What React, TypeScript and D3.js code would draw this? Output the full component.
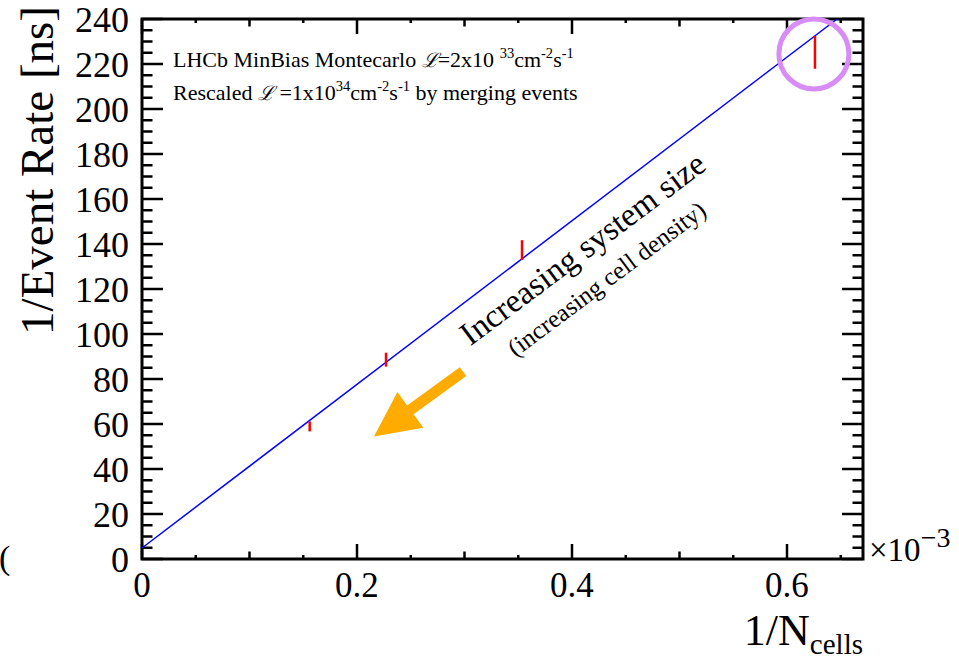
import React, { useEffect, useRef } from "react";
import * as d3 from "d3";

// measured points: 1/N_cells (x 1e-3) vs 1/event rate [ns]
const invCells = [0.156, 0.227, 0.3535, 0.626];
const invRate = [58.9, 88.6, 137.3, 225.2];
const rateErr = [2.2, 3.1, 4.4, 7.3];

// linear fit, drawn between its two ends
const fitX = [0, 0.6466];
const fitY = [4.9, 240];

const xTickLabels = [0, 0.2, 0.4, 0.6];
const yTickLabels = [0, 20, 40, 60, 80, 100, 120, 140, 160, 180, 200, 220, 240];

// annotations in data units
const arrowFrom = [0.2986, 83.3];
const arrowTo = [0.2158, 54.5];
const highlight = [0.625, 224.5];
const noteMain = [0.416, 134];
const noteSub = [0.437, 121.5];

const FONT = "'Liberation Serif', 'Times New Roman', Times, serif";

type Part = [string, string?];

function rich(g: any, x: number, y: number, size: number, parts: Part[], supScale = 0.66, subShift = 0.28) {
  const t = g.append("text").attr("x", x).attr("y", y).attr("font-size", size);
  let shift = 0;
  parts.forEach(([s, kind]) => {
    const ts = t.append("tspan").text(s);
    let target = 0;
    if (kind === "sup") {
      ts.attr("font-size", size * supScale);
      target = -size * 0.42;
    } else if (kind === "sub") {
      ts.attr("font-size", size * 0.66);
      target = size * subShift;
    } else if (kind === "it") {
      ts.attr("font-style", "italic").attr("font-family", "'DejaVu Serif', serif").attr("font-size", size * 0.9);
    }
    if (target !== shift) {
      ts.attr("dy", target - shift);
      shift = target;
    }
  });
  return t;
}

const App = () => {
  const svgRef = useRef<SVGSVGElement>(null);

  useEffect(() => {
    const width = 959;
    const height = 662;
    const margin = { top: 19, right: 96, bottom: 103, left: 142 };

    const x = d3.scaleLinear()
      .domain([0, 0.6707])
      .range([margin.left, width - margin.right]);

    const y = d3.scaleLinear()
      .domain([0, 240])
      .range([height - margin.bottom, margin.top]);

    const svg = d3.select(svgRef.current)
      .attr("width", width)
      .attr("height", height)
      .style("font-family", FONT);

    svg.selectAll("*").remove();

    const x0 = x.range()[0], x1 = x.range()[1];
    const y0 = y.range()[0], y1 = y.range()[1];

    // ticks (inward, on all four sides)
    const ticks = svg.append("g").attr("stroke", "#000").attr("stroke-width", 2.5);
    d3.range(0, 14).forEach(i => {
      const v = i * 0.05;
      if (v > 0.6707) return;
      const len = i % 4 === 0 ? 15 : i % 2 === 0 ? 7.5 : 4;
      const px = x(v);
      ticks.append("line").attr("x1", px).attr("x2", px).attr("y1", y0).attr("y2", y0 - len);
      ticks.append("line").attr("x1", px).attr("x2", px).attr("y1", y1).attr("y2", y1 + len);
    });
    d3.range(0, 49).forEach(i => {
      const v = i * 5;
      const len = i % 4 === 0 ? 21 : 10.5;
      const py = y(v);
      ticks.append("line").attr("x1", x0).attr("x2", x0 + len).attr("y1", py).attr("y2", py);
      ticks.append("line").attr("x1", x1).attr("x2", x1 - len).attr("y1", py).attr("y2", py);
    });

    // frame
    svg.append("rect")
      .attr("x", x0).attr("y", y1)
      .attr("width", x1 - x0).attr("height", y0 - y1)
      .attr("fill", "none").attr("stroke", "#000").attr("stroke-width", 3);

    // tick labels
    svg.append("g").selectAll("text").data(yTickLabels).join("text")
      .attr("x", x0 - 13)
      .attr("y", d => y(d))
      .attr("dy", "0.35em")
      .attr("text-anchor", "end")
      .attr("font-size", 36)
      .text(d => d);

    svg.append("g").selectAll("text").data(xTickLabels).join("text")
      .attr("x", d => x(d))
      .attr("y", y0 + 38)
      .attr("text-anchor", "middle")
      .attr("font-size", 35)
      .text(d => d);

    // exponent
    rich(svg, x1 + 6, y0 + 2, 33, [["×10"], ["−3", "sup"]], 0.85);

    // axis titles
    svg.append("text")
      .attr("transform", `translate(53, 6) rotate(-90)`)
      .attr("text-anchor", "end")
      .attr("font-size", 47)
      .text("1/Event Rate [ns]");

    rich(svg, x1, y0 + 86, 44, [["1/N"], ["cells", "sub"]], 0.66, 0.2).attr("text-anchor", "end");

    // stray glyph at the left edge
    svg.append("text").attr("x", -1).attr("y", y0 + 10).attr("font-size", 34).text("(");

    // legend
    rich(svg, x0 + 31, 67, 22, [
      ["LHCb MinBias Montecarlo "], ["ℒ", "it"], ["=2x10 "], ["33", "sup"], ["cm"], ["-2", "sup"], ["s"], ["-1", "sup"],
    ]);
    rich(svg, x0 + 31, 100, 22, [
      ["Rescaled "], ["ℒ", "it"], [" =1x10"], ["34", "sup"], ["cm"], ["-2", "sup"], ["s"], ["-1", "sup"], [" by merging events"],
    ]);

    // fit line
    const line = d3.line<number>()
      .x(d => x(d))
      .y((d, i) => y(fitY[i]));
    svg.append("path")
      .datum(fitX)
      .attr("fill", "none")
      .attr("stroke", "#0000ff")
      .attr("stroke-width", 1.5)
      .attr("d", line);

    // error bars
    svg.append("g").selectAll("line").data(invCells).join("line")
      .attr("x1", d => x(d)).attr("x2", d => x(d))
      .attr("y1", (d, i) => y(invRate[i] - rateErr[i]))
      .attr("y2", (d, i) => y(invRate[i] + rateErr[i]))
      .attr("stroke", "#ff0000")
      .attr("stroke-width", 2.5);

    // highlight circle
    svg.append("circle")
      .attr("cx", x(highlight[0])).attr("cy", y(highlight[1]))
      .attr("r", 35)
      .attr("fill", "none")
      .attr("stroke", "#d88cf6")
      .attr("stroke-width", 5);

    // orange arrow
    const ax0 = x(arrowFrom[0]), ay0 = y(arrowFrom[1]);
    const ax1 = x(arrowTo[0]), ay1 = y(arrowTo[1]);
    const ang = Math.atan2(ay1 - ay0, ax1 - ax0) * 180 / Math.PI;
    const L = Math.hypot(ax1 - ax0, ay1 - ay0);
    const head = 45, hw = 22, sw = 5.5;
    svg.append("path")
      .attr("transform", `translate(${ax0},${ay0}) rotate(${ang})`)
      .attr("d", `M0,${-sw} L${L - head},${-sw} L${L - head},${-hw} L${L},0 L${L - head},${hw} L${L - head},${sw} L0,${sw} Z`)
      .attr("fill", "#ffab00");

    // rotated notes
    const rot = -36.8;
    svg.append("text")
      .attr("transform", `translate(${x(noteMain[0])},${y(noteMain[1])}) rotate(${rot})`)
      .attr("text-anchor", "middle")
      .attr("font-size", 33)
      .text("Increasing system size");
    svg.append("text")
      .attr("transform", `translate(${x(noteSub[0])},${y(noteSub[1])}) rotate(${rot})`)
      .attr("text-anchor", "middle")
      .attr("font-size", 25)
      .text("(increasing cell density)");
  }, []);

  return (
    <svg ref={svgRef} style={{ position: "absolute", left: 0, top: 0, display: "block" }}></svg>
  );
};

export default App;
